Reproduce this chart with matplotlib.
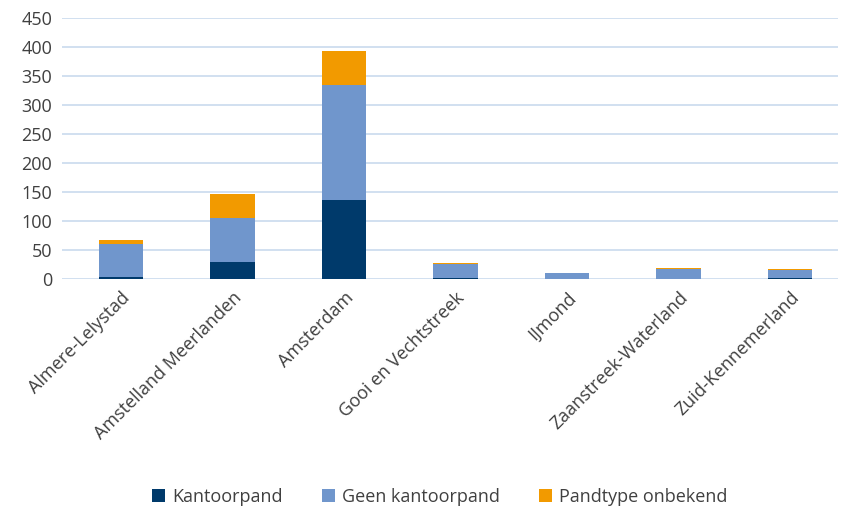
import matplotlib.pyplot as plt
import numpy as np

regions = ['Almere-Lelystad', 'Amstelland Meerlanden', 'Amsterdam', 'Gooi en Vechtstreek',
           'IJmond', 'Zaanstreek-Waterland', 'Zuid-Kennemerland']
kantoorpand = [4, 30, 136, 2, 0, 0, 1]
geen_kantoorpand = [56, 75, 198, 24, 10, 18, 15]
onbekend = [8, 42, 59, 1, 0, 1, 1]

plt.rcParams['font.family'] = ['Open Sans', 'DejaVu Sans']

fig = plt.figure(figsize=(8.41, 5.11), dpi=100)
ax = fig.add_axes([62 / 841, 1 - 279 / 511, 776 / 841, 261 / 511])

x = np.arange(len(regions))
w = 0.40
k = np.array(kantoorpand)
g = np.array(geen_kantoorpand)
o = np.array(onbekend)
ax.bar(x, k, w, color='#003a6b', label='Kantoorpand', zorder=3)
ax.bar(x, g, w, bottom=k, color='#7096cc', label='Geen kantoorpand', zorder=3)
ax.bar(x, o, w, bottom=k + g, color='#f29a00', label='Pandtype onbekend', zorder=3)

ax.set_xlim(-0.53, 6.43)
ax.set_ylim(0, 450)
ax.set_yticks(range(0, 451, 50))
ax.grid(axis='y', color='#c9daee', linewidth=1.2, zorder=0)
for s in ax.spines.values():
    s.set_visible(False)
ax.tick_params(axis='both', length=0, labelsize=13, labelcolor='#404040', pad=7)
ax.set_xticks(x)
ax.set_xticklabels(regions, rotation=45, ha='right', rotation_mode='anchor')

fig.legend(loc='center', bbox_to_anchor=(0.523, 1 - 497 / 511), ncol=3, frameon=False,
           fontsize=13, handlelength=0.7, handleheight=0.7, columnspacing=2.2,
           handletextpad=0.4, labelcolor='#404040')

fig.savefig('out.png', dpi=100)
